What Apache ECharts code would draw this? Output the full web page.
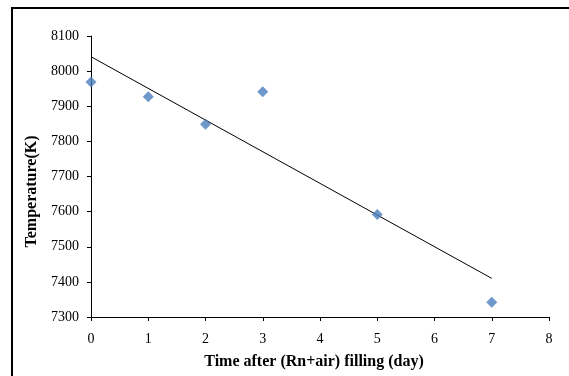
<!DOCTYPE html>
<html>
<head>
<meta charset="utf-8">
<script src="https://cdn.jsdelivr.net/npm/echarts@6/dist/echarts.min.js"></script>
<style>html,body{margin:0;padding:0;background:#fff;}#c{width:569px;height:376px;}</style>
</head>
<body>
<div id="c"></div>
<script>
const days = [0, 1, 2, 3, 5, 7];
const temperatures = [7969, 7927, 7849, 7941, 7592, 7342];
const trendDays = [0, 7];
const trendTemps = [8041, 7410];
const xTicks = [0, 1, 2, 3, 4, 5, 6, 7, 8];
const yTicks = [7300, 7400, 7500, 7600, 7700, 7800, 7900, 8000, 8100];

const chart = echarts.init(document.getElementById('c'), null, {renderer: 'canvas'});
const font = 'Liberation Serif';
chart.setOption({
  backgroundColor: '#fff',
  animation: false,
  graphic: [{
    type: 'rect', z: 100, silent: true,
    shape: {x: 12, y: 8, width: 570, height: 400},
    style: {fill: 'none', stroke: '#000', lineWidth: 2}
  }],
  grid: {left: 91, right: 20, top: 36, bottom: 59, containLabel: false},
  xAxis: {
    type: 'value', min: xTicks[0], max: xTicks[xTicks.length - 1], interval: 1,
    name: 'Time after (Rn+air) filling (day)', nameLocation: 'middle', nameGap: 37,
    nameTextStyle: {fontFamily: font, fontWeight: 'bold', fontSize: 16, color: '#000', padding: [0, 12, 0, 0]},
    axisLine: {show: true, onZero: false, lineStyle: {color: '#000', width: 1}},
    axisTick: {show: true, length: 4, inside: false, lineStyle: {color: '#000'}},
    axisLabel: {fontFamily: font, fontSize: 14, color: '#000', margin: 15, formatter: v => String(v)},
    splitLine: {show: false}
  },
  yAxis: {
    type: 'value', min: yTicks[0], max: yTicks[yTicks.length - 1], interval: 100,
    name: 'Temperature(K)', nameLocation: 'middle', nameGap: 50,
    nameTextStyle: {fontFamily: font, fontWeight: 'bold', fontSize: 16, color: '#000', padding: [0, 30, 0, 0]},
    axisLine: {show: true, onZero: false, lineStyle: {color: '#000', width: 1}},
    axisTick: {show: true, length: 4, inside: false, lineStyle: {color: '#000'}},
    axisLabel: {fontFamily: font, fontSize: 14, color: '#000', margin: 12, formatter: v => String(v)},
    splitLine: {show: false}
  },
  series: [
    {
      type: 'line',
      data: trendDays.map((d, i) => [d, trendTemps[i]]),
      showSymbol: false, symbol: 'none',
      lineStyle: {color: '#000', width: 1},
      z: 2
    },
    {
      type: 'scatter',
      data: days.map((d, i) => [d, temperatures[i]]),
      symbol: 'diamond', symbolSize: [11, 11],
      itemStyle: {color: '#4a7ebb'},
      z: 3
    }
  ]
});
</script>
</body>
</html>
